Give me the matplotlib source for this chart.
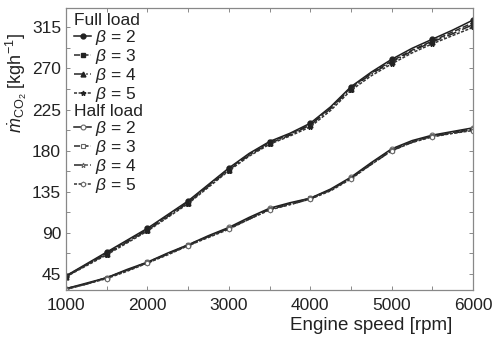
import matplotlib
matplotlib.use("Agg")
import matplotlib.pyplot as plt
from matplotlib.ticker import MultipleLocator

plt.rcParams['font.family'] = ['Liberation Sans', 'DejaVu Sans']
plt.rcParams['mathtext.fontset'] = 'custom'
plt.rcParams['mathtext.rm'] = 'Liberation Sans'
plt.rcParams['mathtext.it'] = 'Liberation Sans:italic'

speed = [1000, 1250, 1500, 1750, 2000, 2250, 2500, 2750, 3000, 3250, 3500,
         3750, 4000, 4250, 4500, 4750, 5000, 5250, 5500, 5750, 6000]
betas = [2, 3, 4, 5]

full_b2 = [43, 56, 69, 82, 95, 110, 125, 143, 161, 177, 190, 199, 210, 228, 250, 266, 280, 292, 302, 312, 323]
full_b3 = [43, 55, 68, 81, 94, 109, 124, 142, 160, 176, 189, 198, 209, 227, 249, 265, 278, 290, 300, 310, 320]
full_b4 = [42, 55, 67, 80, 93, 108, 123, 141, 159, 175, 188, 197, 208, 226, 248, 264, 277, 289, 299, 308, 318]
full_b5 = [42, 54, 66, 79, 92, 107, 122, 140, 158, 174, 187, 196, 206, 224, 246, 262, 275, 287, 297, 306, 315]

half_b2 = [29, 35, 41, 50, 58, 68, 77, 87, 96, 107, 117, 123, 128, 138, 151, 167, 182, 191, 197, 201, 205]
half_b3 = [29, 34, 41, 49, 58, 67, 77, 86, 95, 106, 116, 122, 128, 137, 150, 166, 181, 190, 196, 200, 204]
half_b4 = [29, 34, 41, 49, 57, 67, 76, 86, 95, 105, 116, 121, 127, 137, 150, 165, 180, 189, 196, 199, 203]
half_b5 = [28, 34, 40, 48, 57, 66, 76, 85, 94, 105, 115, 121, 127, 136, 149, 165, 180, 189, 195, 199, 202]

full = [full_b2, full_b3, full_b4, full_b5]
half = [half_b2, half_b3, half_b4, half_b5]

fig = plt.figure(figsize=(4.98, 3.38), dpi=100)
ax = fig.add_axes([0.1325, 0.142, 0.8175, 0.834])

styles = ['-', (0, (4, 1.5)), '-.', (0, (2, 1))]
fmarkers = ['o', 's', '^', '*']
hmarkers = ['o', 's', '*', 'h']
colors = ['#1e1e1e', '#2a2a2a', '#262626', '#333333']

fh = []
for i, b in enumerate(betas):
    l, = ax.plot(speed, full[i], linestyle=styles[i], color=colors[i], lw=1.1,
                 marker=fmarkers[i], ms=3.5, markevery=2, mfc='#222222',
                 mec='#222222', label=r'$\beta$ = %d' % b)
    fh.append(l)
hh = []
for i, b in enumerate(betas):
    l, = ax.plot(speed, half[i], linestyle=styles[i], color=colors[i], lw=1.1,
                 marker=hmarkers[i], ms=3.5, markevery=2, mfc='white',
                 mec='#666666', mew=0.8, label=r'$\beta$ = %d' % b)
    hh.append(l)

ax.set_xlim(1000, 6000)
ax.set_ylim(27.5, 336)
ax.xaxis.set_major_locator(MultipleLocator(1000))
ax.xaxis.set_minor_locator(MultipleLocator(500))
ax.set_yticks([45, 90, 135, 180, 225, 270, 315])
ax.yaxis.set_minor_locator(MultipleLocator(22.5))
ax.tick_params(which='both', direction='in', top=True, right=True,
               length=3, width=0.6, color='#777777', labelsize=12.5,
               labelcolor='#222222')
ax.tick_params(axis='x', pad=6)
for s in ax.spines.values():
    s.set_color('#888888')
    s.set_linewidth(0.9)

ax.set_xlabel('Engine speed [rpm]', fontsize=13.5, color='#222222')
ax.xaxis.set_label_coords(0.75, -0.095)
ax.set_ylabel(r'$\dot{m}_{\mathrm{CO_2}}$ [kgh$^{-1}$]', fontsize=13,
              color='#222222')
ax.yaxis.set_label_coords(-0.092, 0.735)

common = dict(loc='upper left', frameon=False, fontsize=12.5, title_fontsize=12.5,
              handlelength=1.0, handletextpad=0.2, labelspacing=0.0,
              borderpad=0.1, borderaxespad=0.0, alignment='left')
leg1 = ax.legend(handles=fh, title='Full load',
                 bbox_to_anchor=(0.015, 0.99), **common)
ax.add_artist(leg1)
leg2 = ax.legend(handles=hh, title='Half load',
                 bbox_to_anchor=(0.015, 0.665), **common)
for leg in (leg1, leg2):
    leg.get_title().set_color('#222222')
    for t in leg.get_texts():
        t.set_color('#222222')

fig.savefig('out.png', dpi=100)
